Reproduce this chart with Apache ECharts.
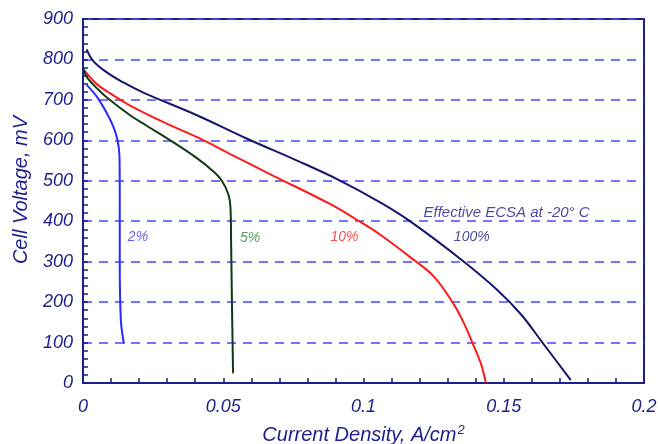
<!DOCTYPE html>
<html>
<head>
<meta charset="utf-8">
<script src="https://cdn.jsdelivr.net/npm/echarts@6/dist/echarts.min.js"></script>
<style>
  html, body { margin: 0; padding: 0; background: #fff; }
  #main { width: 658px; height: 444px; }
</style>
</head>
<body>
<div id="main"></div>
<script>
// curves: current density (A/cm2) and cell voltage (mV)
var x100 = [0.0013, 0.0037, 0.0085, 0.0144, 0.0215, 0.0406, 0.0585, 0.0763, 0.0918, 0.1061, 0.1168, 0.1358, 0.1477, 0.1561, 0.1638, 0.1739];
var v100 = [825, 796, 768, 743, 718, 662, 604, 550, 500, 446, 399, 300, 230, 170, 100, 7];

var x10 = [0.0004, 0.0013, 0.0049, 0.0108, 0.0168, 0.0287, 0.0418, 0.0525, 0.0668, 0.0882, 0.0977, 0.1061, 0.118, 0.1251, 0.1317, 0.1358, 0.1388, 0.1418, 0.1436];
var v10 = [774, 766, 739, 711, 686, 645, 604, 566, 516, 442, 403, 366, 304, 263, 200, 148, 100, 49, 1];

var x5 = [0.0001, 0.0013, 0.0049, 0.0085, 0.0168, 0.0227, 0.0311, 0.0406, 0.0465, 0.0495, 0.0519, 0.0526, 0.0528, 0.0531, 0.0535];
var v5 = [778, 757, 729, 706, 662, 636, 600, 556, 523, 500, 465, 430, 350, 199, 24];

var x2 = [0.0013, 0.0049, 0.0085, 0.0108, 0.0123, 0.013, 0.0131, 0.0131, 0.0135, 0.0146];
var v2 = [737, 708, 667, 634, 601, 560, 477, 297, 156, 97];

// annotations, in data coordinates
var noteText = ['2%', '5%', '10%', '100%', 'Effective ECSA at -20° C'];
var noteX = [0.0196, 0.0596, 0.0932, 0.1386, 0.151];
var noteY = [361, 359, 361, 361, 421];
var noteColor = ['#3838ff', '#2e8b2e', '#ff2020', '#1c1c80', '#1c1c80'];

var navy = '#1e1e8c';
var font = '"Liberation Sans", Arial, sans-serif';

function zip(xs, ys) {
  var out = [];
  for (var i = 0; i < xs.length; i++) out.push([xs[i], ys[i]]);
  return out;
}

function curve(name, xs, ys, color) {
  return {
    name: name,
    type: 'line',
    data: zip(xs, ys),
    showSymbol: false,
    smooth: 0.4,
    lineStyle: { color: color, width: 2 },
    z: 3
  };
}

var notes = [];
for (var i = 0; i < noteText.length; i++) {
  notes.push({
    value: [noteX[i], noteY[i]],
    label: { formatter: noteText[i], color: noteColor[i], fontSize: i === 4 ? 15 : 14 }
  });
}

var chart = echarts.init(document.getElementById('main'));
chart.setOption({
  animation: false,
  grid: {
    left: 83, right: 14, top: 19, bottom: 61,
    outerBoundsMode: 'none',
    containLabel: false,
    show: true, borderColor: navy, borderWidth: 2
  },
  xAxis: {
    type: 'value',
    min: 0, max: 0.2, interval: 0.05,
    name: '{a|Current Density, A/cm}{sup|2}',
    nameLocation: 'middle',
    nameGap: 41,
    nameTextStyle: {
      rich: {
        a: { fontFamily: font, fontStyle: 'italic', fontSize: 20, color: navy },
        sup: { fontFamily: font, fontStyle: 'italic', fontSize: 13, color: navy, verticalAlign: 'top', padding: [0, 0, 10, 1] }
      }
    },
    axisLine: { lineStyle: { color: navy, width: 2 } },
    axisTick: { inside: true, length: 5, lineStyle: { color: navy, width: 1.5 } },
    minorTick: { show: true, splitNumber: 5, length: 5, lineStyle: { color: navy, width: 1.5 } },
    axisLabel: { margin: 15, fontFamily: font, fontStyle: 'italic', fontSize: 18, color: navy },
    splitLine: { show: false }
  },
  yAxis: {
    type: 'value',
    min: 0, max: 900, interval: 100,
    name: 'Cell Voltage, mV',
    nameLocation: 'middle',
    nameRotate: 90,
    nameGap: 52,
    nameTextStyle: { fontFamily: font, fontStyle: 'italic', fontSize: 20, color: navy, padding: [0, 0, 0, 22] },
    axisLine: { lineStyle: { color: navy, width: 2 } },
    axisTick: { inside: true, length: 5, lineStyle: { color: navy, width: 1.5 } },
    minorTick: { show: true, splitNumber: 5, length: 5, lineStyle: { color: navy, width: 1.5 } },
    axisLabel: { margin: 10, fontFamily: font, fontStyle: 'italic', fontSize: 18, color: navy },
    splitLine: {
      show: true,
      lineStyle: { color: '#4848ff', width: 1.5, type: [9, 7] }
    }
  },
  series: [
    curve('100%', x100, v100, '#16166e'),
    curve('10%', x10, v10, '#ff1a1a'),
    curve('5%', x5, v5, '#0f3a12'),
    curve('2%', x2, v2, '#2a2aff'),
    {
      type: 'scatter',
      symbolSize: 0,
      data: notes,
      label: {
        show: true,
        position: 'inside',
        fontFamily: font,
        fontStyle: 'italic'
      },
      z: 5
    }
  ]
});
</script>
</body>
</html>
